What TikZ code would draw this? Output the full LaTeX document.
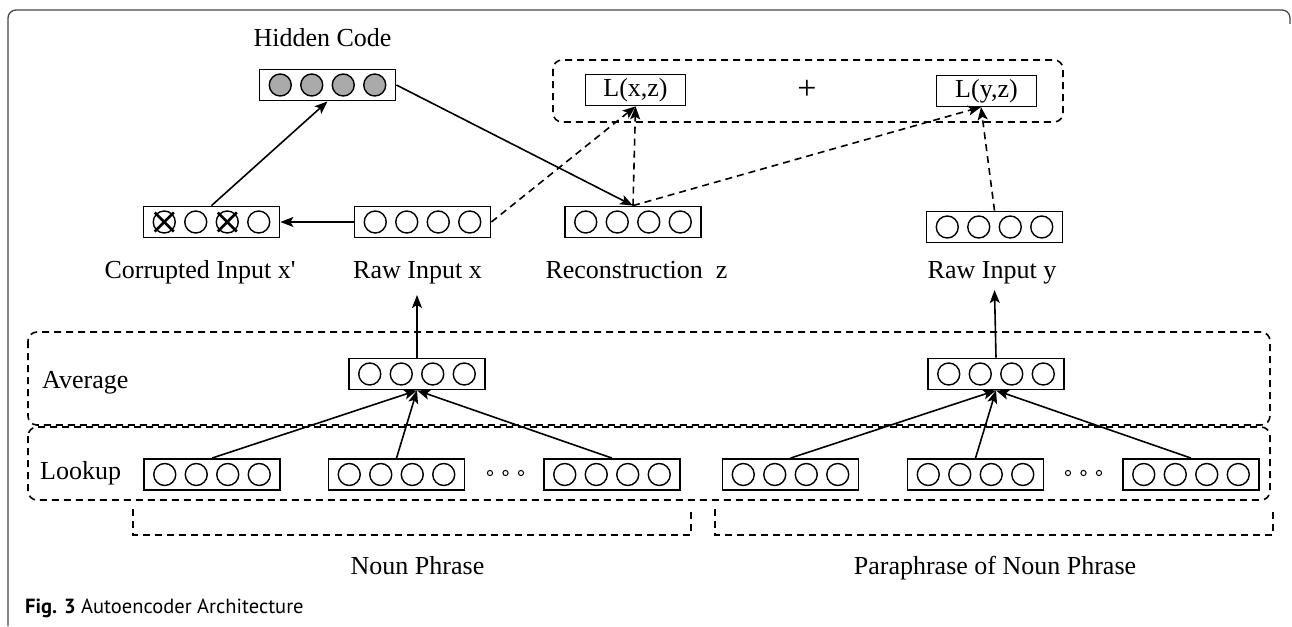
\documentclass[tikz,border=0pt]{standalone}
\usepackage{fontspec}
\setmainfont{Liberation Serif}
\newfontfamily\capfont{PT Sans}
\usetikzlibrary{arrows.meta}
\definecolor{hidgray}{RGB}{170,170,170}
\definecolor{framegray}{RGB}{70,70,70}
\newcommand\straightquote{{\XeTeXglyph\XeTeXcharglyph"27\relax}}
\tikzset{
 vbox/.style={draw, line width=1.8pt, minimum width=136pt, minimum height=31pt, inner sep=0pt},
 lbox/.style={draw, line width=1.8pt, minimum width=100pt, minimum height=31pt, inner sep=0pt, font=\fontsize{26}{30}\selectfont},
 circ/.style={line width=1.4pt},
 xmark/.style={line width=2.8pt},
 lbl/.style={font=\fontsize{26}{30}\selectfont, inner sep=0pt},
 conn/.style={line width=1.6pt, -{Stealth[length=13pt,width=10pt,inset=3pt]}},
 dconn/.style={conn, dash pattern=on 7pt off 5pt},
 region/.style={line width=1.6pt, dash pattern=on 7pt off 5pt, rounded corners=9pt},
 bracket/.style={line width=1.6pt, dash pattern=on 7pt off 5pt},
 dot/.style={line width=1pt},
}
\newcommand\vecbox[3][white]{%
  \node[vbox] (#2) at (#3) {};
  \foreach \dx in {-47.25,-15.75,15.75,47.25}
    \draw[circ, fill=#1] ([xshift=\dx pt]#2.center) circle[radius=11pt];
}
\begin{document}
\begin{tikzpicture}[x=1pt, y=-1pt]
\useasboundingbox (0,0) rectangle (1292,626);
% frame
\draw[framegray, line width=1.3pt, rounded corners=8pt] (8,626) -- (8,10) -- (1290,10) -- (1290,24);

% regions
\draw[region] (553,60) rectangle (1063,122);
\draw[region] (28,332) rectangle (1270,425);
\draw[region] (28,427) rectangle (1270,500);
\draw[bracket] (133,509) -- (133,535) -- (691,535) -- (691,509);
\draw[bracket] (715,509) -- (715,535) -- (1273,535) -- (1273,509);

% vector boxes
\vecbox[hidgray]{hid}{327.5,85}
\vecbox{cor}{211.5,222}
\vecbox{rawx}{422.5,222}
\vecbox{rec}{633,222}
\vecbox{rawy}{994.5,227}
\vecbox{avgx}{417,374}
\vecbox{avgy}{996,374}
\vecbox{l1}{212,474.5}
\vecbox{l2}{396.5,474.5}
\vecbox{l3}{612,474.5}
\vecbox{l4}{790.5,474.5}
\vecbox{l5}{975.5,474.5}
\vecbox{l6}{1191,474.5}

% crosses on corrupted input
\foreach \dx in {-47.25,15.75}{
  \draw[xmark] ([xshift=\dx pt-9.5pt, yshift=9.5pt]cor.center) -- ([xshift=\dx pt+9.5pt, yshift=-9.5pt]cor.center);
  \draw[xmark] ([xshift=\dx pt-9.5pt, yshift=-9.5pt]cor.center) -- ([xshift=\dx pt+9.5pt, yshift=9.5pt]cor.center);
}

% ellipsis dots
\foreach \px in {490,505.5,521,1068,1083.5,1099}
  \draw[dot] (\px,473) circle[radius=2.6pt];

% loss boxes
\node[lbox] (lxz) at (635.5,90) {L(x,z)};
\node[lbox] (lyz) at (986.5,91) {L(y,z)};
\node[lbl, font=\fontsize{34}{38}\selectfont] (plus) at (807,90) {+};

% labels
\node[lbl, anchor=base] (lhid) at (322.5,47) {Hidden Code};
\node[lbl, anchor=base] (lcor) at (200,278) {Corrupted Input x\straightquote};
\node[lbl, anchor=base] (lrawx) at (417.5,278) {Raw Input x};
\node[lbl, anchor=base] (lrec) at (636.5,278) {Reconstruction\ \ z};
\node[lbl, anchor=base] (lrawy) at (992,278) {Raw Input y};
\node[lbl, anchor=base west] (lavg) at (42,388) {Average};
\node[lbl, anchor=base west] (llook) at (40,479) {Lookup};
\node[lbl, anchor=base] (lnp) at (417.5,574) {Noun Phrase};
\node[lbl, anchor=base] (lpnp) at (995,574) {Paraphrase of Noun Phrase};
\node[inner sep=0pt, anchor=base west, font=\capfont\fontsize{20.5}{25}\selectfont] (cap) at (25,613) {\textbf{Fig. 3} Autoencoder Architecture};

% connectors
\coordinate (tx) at (417,295);
\coordinate (ty) at (994.5,290);
\coordinate (tyz) at (981,107);
\draw[conn] (rawx.west) -- (cor.east);
\draw[conn] (cor.north) -- (hid.south);
\draw[conn] (hid.east) -- (rec.north);
\draw[dconn] (rawx.east) -- (lxz.south);
\draw[dconn] (rec.north) -- (lxz.south);
\draw[dconn] (rec.north) -- (tyz);
\draw[dconn] (rawy.north) -- (tyz);
\draw[conn] (avgx.north) -- (tx);
\draw[conn] (avgy.north) -- (ty);
\foreach \b in {l1,l2,l3} \draw[conn] (\b.north) -- (avgx.south);
\foreach \b in {l4,l5,l6} \draw[conn] (\b.north) -- (avgy.south);
\end{tikzpicture}
\end{document}
